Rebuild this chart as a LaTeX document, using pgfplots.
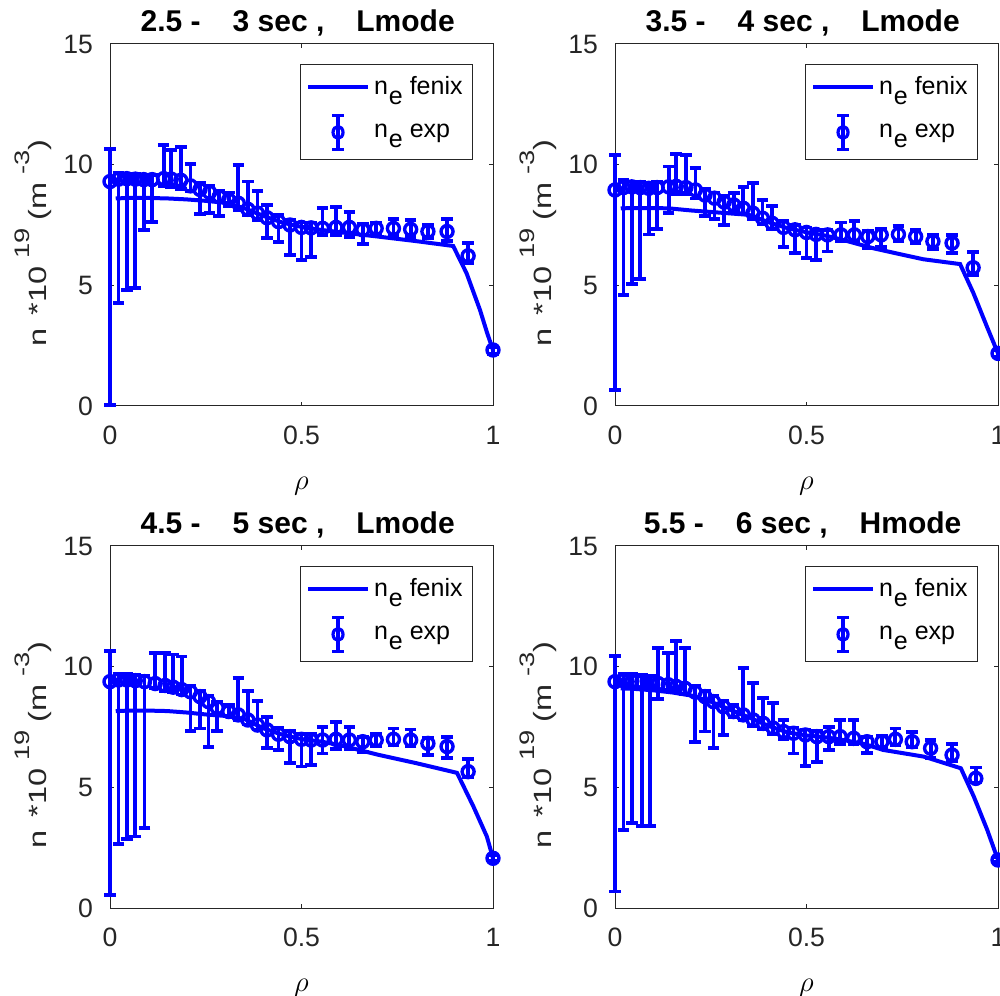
\documentclass[border=0pt]{standalone}
\usepackage{fontspec}
\setmainfont{Liberation Sans}
\usepackage{pgfplots}
\usepackage{pgfplotstable}
\pgfplotsset{compat=1.18}

% measured profiles: r  n  top  bot  (n in 1e19 m^-3)
\pgfplotstableread{
r      n     top    bot
0      9.30  10.64  0.05
0.022  9.40  9.65   4.26
0.044  9.42  9.62   4.80
0.066  9.40  9.60   4.90
0.088  9.38  9.58   7.29
0.110  9.38  9.58   7.64
0.140  9.42  10.82  9.10
0.160  9.40  10.60  9.05
0.185  9.35  10.72  9.00
0.210  9.12  10.03  8.90
0.235  8.97  9.25   7.96
0.260  8.85  9.10   7.99
0.285  8.67  8.90   7.87
0.310  8.54  8.85   8.30
0.335  8.40  9.99   8.10
0.360  8.15  9.30   7.90
0.385  7.99  8.92   7.70
0.410  7.80  8.33   6.95
0.440  7.64  7.90   6.81
0.470  7.50  7.70   6.26
0.500  7.40  7.60   6.05
0.525  7.38  7.60   6.19
0.555  7.36  8.19   7.10
0.590  7.40  8.26   7.10
0.625  7.40  8.05   7.00
0.660  7.30  7.55   6.70
0.695  7.36  7.60   7.10
0.740  7.36  7.75   7.10
0.785  7.32  7.70   7.00
0.830  7.23  7.50   6.95
0.880  7.23  7.75   6.85
0.935  6.22  6.74   5.91
1.000  2.32  2.45   2.15
}\expA
\pgfplotstableread{
r      n
0.015  8.60
0.05   8.62
0.10   8.62
0.15   8.60
0.20   8.56
0.25   8.50
0.30   8.42
0.35   8.20
0.40   7.88
0.45   7.60
0.50   7.42
0.55   7.30
0.60   7.20
0.70   7.02
0.80   6.83
0.896  6.63
0.931  5.50
0.966  3.98
0.985  3.01
1.0    2.32
}\fenA

\pgfplotstableread{
r      n     top    bot
0      8.95  10.40  0.66
0.022  9.05  9.35   4.60
0.044  9.08  9.30   5.06
0.066  9.05  9.30   5.25
0.088  9.02  9.25   7.11
0.110  9.05  9.30   7.32
0.140  9.08  9.92   8.00
0.160  9.10  10.44  8.80
0.185  9.05  10.40  8.80
0.210  8.95  9.85   8.60
0.235  8.74  9.00   7.87
0.260  8.61  8.85   7.74
0.285  8.45  8.70   7.50
0.310  8.33  8.81   8.10
0.335  8.19  9.09   7.95
0.360  7.99  9.25   7.75
0.385  7.78  8.54   7.55
0.410  7.57  8.30   7.35
0.440  7.40  7.65   6.60
0.470  7.30  7.50   6.35
0.500  7.19  7.40   6.12
0.525  7.11  7.30   6.05
0.555  7.09  7.30   6.40
0.590  7.09  7.60   6.85
0.625  7.09  7.66   6.85
0.660  7.02  7.25   6.53
0.695  7.09  7.35   6.60
0.740  7.11  7.45   6.85
0.785  7.02  7.30   6.75
0.830  6.82  7.10   6.50
0.880  6.75  7.10   6.35
0.935  5.73  6.39   5.43
1.000  2.18  2.30   2.05
}\expB
\pgfplotstableread{
r      n
0.015  8.19
0.05   8.20
0.10   8.20
0.14   8.19
0.20   8.10
0.25   8.04
0.30   7.98
0.35   7.92
0.40   7.62
0.45   7.37
0.50   7.20
0.55   7.06
0.60   6.86
0.676  6.53
0.75   6.27
0.805  6.08
0.901  5.88
0.936  4.67
0.971  3.29
1.0    2.18
}\fenB

\pgfplotstableread{
r      n     top    bot
0      9.38  10.66  0.54
0.022  9.45  9.70   2.65
0.044  9.45  9.68   2.85
0.066  9.42  9.65   2.96
0.090  9.38  9.60   3.30
0.118  9.30  10.55  9.10
0.144  9.22  10.55  9.00
0.165  9.15  10.50  8.95
0.187  9.05  10.42  8.85
0.210  8.96  9.20   7.35
0.235  8.76  9.00   7.44
0.257  8.55  8.80   6.66
0.280  8.30  8.55   7.35
0.310  8.14  8.40   7.95
0.335  8.00  9.52   7.80
0.360  7.79  9.00   7.60
0.385  7.58  8.59   7.40
0.410  7.38  7.93   6.62
0.440  7.20  7.45   6.55
0.470  7.10  7.32   6.00
0.500  6.99  7.20   5.86
0.525  6.96  7.20   5.93
0.555  6.96  7.51   6.40
0.590  6.99  7.71   6.60
0.625  6.96  7.50   6.60
0.660  6.89  7.10   6.48
0.695  6.96  7.20   6.70
0.740  6.99  7.44   6.75
0.785  6.96  7.40   6.70
0.830  6.82  7.05   6.34
0.880  6.69  7.10   6.20
0.935  5.65  6.16   5.44
1.000  2.06  2.20   1.95
}\expC
\pgfplotstableread{
r      n
0.015  8.16
0.05   8.18
0.10   8.18
0.15   8.16
0.20   8.10
0.25   8.02
0.30   7.96
0.35   7.84
0.40   7.45
0.45   7.18
0.50   7.00
0.55   6.90
0.60   6.75
0.70   6.35
0.80   6.00
0.906  5.60
0.949  4.20
0.984  2.96
1.0    2.06
}\fenC

\pgfplotstableread{
r      n     top    bot
0      9.38  10.44  0.68
0.022  9.42  9.70   3.23
0.044  9.40  9.68   3.51
0.070  9.38  9.65   3.40
0.092  9.35  9.62   3.40
0.113  9.30  10.76  8.65
0.139  9.25  10.58  9.00
0.160  9.18  11.06  8.95
0.183  9.10  10.76  8.85
0.209  8.95  9.20   6.89
0.235  8.76  9.00   7.31
0.257  8.55  8.80   6.62
0.283  8.34  8.58   7.17
0.309  8.14  8.40   7.90
0.335  8.00  9.93   7.80
0.361  7.79  9.31   7.55
0.387  7.65  8.69   7.40
0.413  7.45  8.48   7.20
0.440  7.31  7.79   6.99
0.466  7.24  7.48   6.40
0.497  7.17  7.40   5.88
0.527  7.10  7.32   6.06
0.558  7.10  7.51   6.54
0.588  7.10  7.79   6.80
0.623  7.03  7.79   6.80
0.658  6.89  7.10   6.41
0.697  6.89  7.15   6.65
0.732  6.99  7.44   6.75
0.776  6.89  7.30   6.65
0.824  6.62  6.96   6.20
0.880  6.34  6.80   6.10
0.942  5.37  5.82   5.20
1.000  1.99  2.10   1.90
}\expD
\pgfplotstableread{
r      n
0.015  9.10
0.05   9.08
0.10   9.02
0.15   8.93
0.20   8.80
0.25   8.55
0.30   8.22
0.35   7.90
0.40   7.55
0.45   7.28
0.50   7.15
0.55   7.07
0.60   6.95
0.65   6.80
0.70   6.55
0.75   6.42
0.807  6.27
0.903  5.79
0.937  4.61
0.972  3.23
1.0    1.99
}\fenD

\definecolor{axgray}{gray}{0.15}

% raised exponent in the axis label
\newcommand{\expo}[1]{\raisebox{8.5pt}{\fontsize{10.5}{10.5}\selectfont #1}}
% n with a lowered subscript e, as in the legend
\newcommand{\nsube}{n\hspace{0.5pt}\raisebox{-5pt}{e}}

\pgfplotsset{
  panel/.style={
    scale only axis, width=191.5pt, height=181pt,
    xmin=0, xmax=1, ymin=0, ymax=15,
    xtick={0,0.5,1}, ytick={0,5,10,15},
    tick align=inside, major tick length=2.2pt,
    axis line style={axgray, line width=0.5pt},
    every tick/.style={axgray, line width=0.5pt},
    /pgf/number format/assume math mode=true,
    ticklabel style={font=\fontsize{13.3}{14}\selectfont, text=axgray},
    xticklabel style={yshift=-6.5pt},
    yticklabel style={xshift=-5pt},
    clip=false,
    xlabel={$\rho$},
    xlabel style={at={(axis description cs:0.5,0)}, anchor=center, yshift=-40pt,
      font=\fontsize{14}{14}\selectfont},
    ylabel={\scalebox{1.3}[1]{n\hspace{5pt}*10\hspace{3pt}\expo{19}\hspace{3pt}(m\hspace{3pt}\expo{-3})}},
    ylabel style={at={(axis description cs:-0.2,0.45)}, anchor=center,
      font=\fontsize{12.5}{13}\selectfont, text=axgray},
    title style={at={(axis description cs:0.49,1)}, anchor=center, yshift=4.5pt,
      font=\bfseries\fontsize{15}{15}\selectfont},
    legend style={at={(0.948,0.945)}, anchor=north east, draw=axgray,
      line width=0.5pt, fill=white, font=\fontsize{12.5}{14}\selectfont,
      inner xsep=3pt, inner ysep=4pt, row sep=6pt},
    legend cell align=left,
  },
  fenix/.style={blue, line width=2pt, no marks,
    legend image code/.code={\draw[blue, line width=2pt] (0pt,0pt) -- (30pt,0pt);}},
  expt/.style={blue, only marks, mark=o, mark size=3pt,
    mark options={line width=1.7pt, blue},
    error bars/.cd, y dir=both, y explicit,
    error bar style={line width=1.9pt, blue},
    error mark options={rotate=90, mark size=2.9pt, line width=1.9pt, blue},
    /pgfplots/legend image code/.code={
      \draw[blue, line width=1.9pt] (15pt,-8.5pt) -- (15pt,8.5pt);
      \draw[blue, line width=1.9pt] (12.2pt,-8.5pt) -- (17.8pt,-8.5pt);
      \draw[blue, line width=1.9pt] (12.2pt,8.5pt) -- (17.8pt,8.5pt);
      \draw[blue, line width=1.6pt] (15pt,0pt) ellipse (2.5pt and 3pt);
    }},
}

\begin{document}
\begin{tikzpicture}
\path[use as bounding box] (0,0) rectangle (500pt,497.5pt);

\begin{axis}[panel, at={(55pt,294.5pt)}, anchor=south west,
  title={2.5 -\hspace{16pt}3 sec ,\hspace{16pt}Lmode}]
\addplot[fenix] table[x=r, y=n] {\fenA};
\addplot[expt] table[x=r, y=n, y error plus expr=\thisrow{top}-\thisrow{n},
  y error minus expr=\thisrow{n}-\thisrow{bot}] {\expA};
\legend{\nsube\ fenix, \nsube\ exp}
\end{axis}

\begin{axis}[panel, at={(307.5pt,294.5pt)}, anchor=south west,
  title={3.5 -\hspace{16pt}4 sec ,\hspace{16pt}Lmode}]
\addplot[fenix] table[x=r, y=n] {\fenB};
\addplot[expt] table[x=r, y=n, y error plus expr=\thisrow{top}-\thisrow{n},
  y error minus expr=\thisrow{n}-\thisrow{bot}] {\expB};
\legend{\nsube\ fenix, \nsube\ exp}
\end{axis}

\begin{axis}[panel, at={(55pt,43.5pt)}, anchor=south west,
  title={4.5 -\hspace{16pt}5 sec ,\hspace{16pt}Lmode}]
\addplot[fenix] table[x=r, y=n] {\fenC};
\addplot[expt] table[x=r, y=n, y error plus expr=\thisrow{top}-\thisrow{n},
  y error minus expr=\thisrow{n}-\thisrow{bot}] {\expC};
\legend{\nsube\ fenix, \nsube\ exp}
\end{axis}

\begin{axis}[panel, at={(307.5pt,43.5pt)}, anchor=south west,
  title={5.5 -\hspace{16pt}6 sec ,\hspace{16pt}Hmode}]
\addplot[fenix] table[x=r, y=n] {\fenD};
\addplot[expt] table[x=r, y=n, y error plus expr=\thisrow{top}-\thisrow{n},
  y error minus expr=\thisrow{n}-\thisrow{bot}] {\expD};
\legend{\nsube\ fenix, \nsube\ exp}
\end{axis}
\end{tikzpicture}
\end{document}
